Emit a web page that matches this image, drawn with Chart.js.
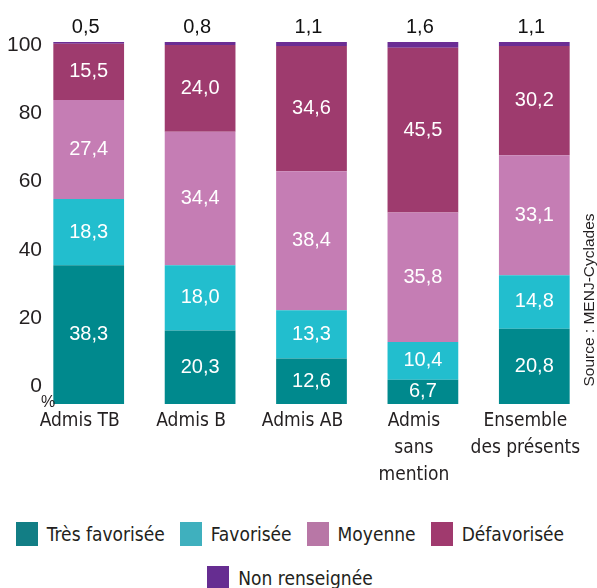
<!DOCTYPE html>
<html lang="fr">
<head>
<meta charset="utf-8">
<script src="https://cdn.jsdelivr.net/npm/chart.js@4.4.1/dist/chart.umd.min.js"></script>
<style>
  body { margin: 0; background: #fff; overflow: hidden; color: #231F20; }
  #legend {
    width: 580px; margin-top: 22px;
    display: flex; flex-wrap: wrap; justify-content: center;
    column-gap: 15px; row-gap: 20px;
    font: 19px 'DejaVu Sans Condensed', 'Liberation Sans Narrow', sans-serif;
  }
  .item { display: flex; align-items: center; line-height: 24px; height: 24px; }
  .item i { display: inline-block; width: 22px; height: 24px; margin-right: 9px; }
</style>
</head>
<body>
<canvas id="chart" width="597" height="500"></canvas>
<div id="legend"></div>
<script>
// Répartition par origine sociale (%), source MENJ-Cyclades
const categories = ['Admis TB', 'Admis B', 'Admis AB', ['Admis', 'sans', 'mention'], ['Ensemble', 'des présents']];
const tresFavorisee = [38.3, 20.3, 12.6, 6.7, 20.8];
const favorisee = [18.3, 18.0, 13.3, 10.4, 14.8];
// Admis B: the bar is drawn ~36,9 high (sum to 100) while the figure prints 34,4
const moyenne = [27.4, 36.9, 38.4, 35.8, 33.1];
const moyennePrinted = ['27,4', '34,4', '38,4', '35,8', '33,1'];
const defavorisee = [15.5, 24.0, 34.6, 45.5, 30.2];
const nonRenseignee = [0.5, 0.8, 1.1, 1.6, 1.1];
const yTicks = [0, 20, 40, 60, 80, 100];

const TEXT = '#231F20';
const NUM_FONT = "'Liberation Sans', Arial, sans-serif";
const CAT_FONT = "'DejaVu Sans Condensed', 'Liberation Sans Narrow', sans-serif";

const fmt = v => v.toFixed(1).replace('.', ',');

const series = [
  { label: 'Très favorisée', data: tresFavorisee, backgroundColor: '#00898D', legendColor: '#127E85' },
  { label: 'Favorisée', data: favorisee, backgroundColor: '#22BECE', legendColor: '#3FB0BE' },
  { label: 'Moyenne', data: moyenne, backgroundColor: '#C57DB4', legendColor: '#B877A6', printed: moyennePrinted },
  { label: 'Défavorisée', data: defavorisee, backgroundColor: '#9E3B6E', legendColor: '#A03A6E' },
  { label: 'Non renseignée', data: nonRenseignee, backgroundColor: '#6B2D94', legendColor: '#662D91', outside: true }
];

// values in the segments, small "non renseignée" above the bar, y labels, "%" and source
const valueLabels = {
  id: 'valueLabels',
  afterDatasetsDraw(chart) {
    const ctx = chart.ctx;
    const area = chart.chartArea;
    ctx.save();
    ctx.textAlign = 'center';
    ctx.textBaseline = 'middle';
    ctx.font = '20px ' + NUM_FONT;
    chart.data.datasets.forEach((ds, di) => {
      chart.getDatasetMeta(di).data.forEach((bar, i) => {
        const txt = ds.printed ? ds.printed[i] : fmt(ds.data[i]);
        if (ds.outside) {
          ctx.fillStyle = '#111';
          ctx.fillText(txt, bar.x - 3, bar.y - 15);
        } else {
          ctx.fillStyle = '#fff';
          ctx.fillText(txt, bar.x, (bar.y + bar.base) / 2);
        }
      });
    });

    // the figure's tick labels sit on their own slightly tighter spacing (axis yl)
    const yl = chart.scales.yl;
    ctx.fillStyle = TEXT;
    ctx.textAlign = 'right';
    ctx.font = '21px ' + NUM_FONT;
    yTicks.forEach(v => ctx.fillText(String(v), area.left + 9, yl.getPixelForValue(v)));

    ctx.textAlign = 'center';
    ctx.font = '16px ' + NUM_FONT;
    ctx.fillText('%', area.left + 15, area.bottom - 1);

    ctx.translate(590, 300);
    ctx.rotate(-Math.PI / 2);
    ctx.font = '15.5px ' + NUM_FONT;
    ctx.fillText('Source : MENJ-Cyclades', 0, 0);
    ctx.restore();
  }
};

const chart = new Chart(document.getElementById('chart'), {
  type: 'bar',
  data: {
    labels: categories,
    datasets: series.map(s => ({
      ...s,
      borderWidth: 0,
      categoryPercentage: 1,
      barPercentage: 0.635,
      yAxisID: 'y'
    }))
  },
  options: {
    responsive: false,
    animation: false,
    layout: { padding: { top: 42, right: 7, left: 33, bottom: 0 } },
    plugins: { legend: { display: false }, tooltip: { enabled: false } },
    scales: {
      x: {
        stacked: true,
        grid: { display: false },
        border: { display: false },
        ticks: {
          color: TEXT,
          font: { family: CAT_FONT, size: 19, lineHeight: 1.42 },
          padding: -4,
          labelOffset: -9,
          maxRotation: 0,
          autoSkip: false
        },
        afterFit: s => { s.height = 96; }
      },
      y: { stacked: true, min: 0, max: 100, display: false },
      yl: { position: 'left', min: -5.29, max: 101.03, display: false }
    }
  },
  plugins: [valueLabels]
});

const legend = document.getElementById('legend');
series.forEach(s => {
  const item = document.createElement('div');
  item.className = 'item';
  const box = document.createElement('i');
  box.style.background = s.legendColor;
  item.appendChild(box);
  item.appendChild(document.createTextNode(s.label));
  legend.appendChild(item);
});
</script>
</body>
</html>
